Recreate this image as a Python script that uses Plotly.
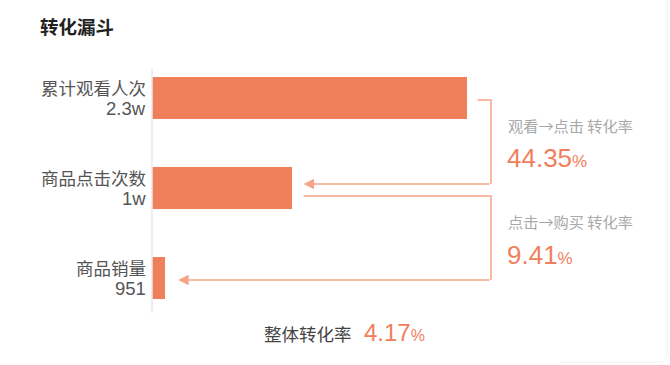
import plotly.graph_objects as go

# ---- data ----
categories = ["累计观看人次", "商品点击次数", "商品销量"]
values = [22806, 10114, 951]
value_labels = ["2.3w", "1w", "951"]
step_names = ["观看→点击 转化率", "点击→购买 转化率"]
step_rates = [44.35, 9.41]
overall_label = "整体转化率"
overall_rate = 4.17
title = "转化漏斗"

# ---- styling / layout constants ----
FIG_W, FIG_H = 670, 365
BAR_COLOR = "#F0805C"
LINE_COLOR = "#F6A486"
FONT = "Liberation Sans, Noto Sans CJK SC, sans-serif"
CJK_FONT = "Noto Sans CJK SC, sans-serif"
X0_PX, PLOT_W_PX = 152, 448
BAR1_END_PX = 466.7
R = values[0] * PLOT_W_PX / (BAR1_END_PX - X0_PX)
Y_TOP_PX, ROW_PX = 53, 90
BRACKET_X_PX = 491


def px(x):
    return x / FIG_W


def py(y):
    return 1 - y / FIG_H


def vx(v):
    return X0_PX + v / R * PLOT_W_PX


def cy(i):
    return Y_TOP_PX + (i + 0.5) * ROW_PX


n = len(categories)
fig = go.Figure()
fig.add_trace(go.Bar(
    y=list(range(n)), x=values, orientation="h",
    marker=dict(color=BAR_COLOR, line=dict(width=0)),
    width=0.473, hoverinfo="skip", showlegend=False,
))

shapes = []
annotations = []

# axis line
shapes.append(dict(type="line", xref="paper", yref="paper",
                   x0=px(X0_PX), x1=px(X0_PX), y0=py(68), y1=py(313),
                   line=dict(color="#E8E8EE", width=1.5)))

# card border (right edge with rounded corner)
shapes.append(dict(type="path", xref="paper", yref="paper",
                   path=f"M {px(667)},{py(0)} L {px(667)},{py(354)} Q {px(667)},{py(362)} {px(659)},{py(362)} L {px(560)},{py(362)}",
                   line=dict(color="#F0F0F0", width=1)))

# connectors
conn = [
    (vx(values[0]) + 11, cy(0) + 2, vx(values[1]) + 12, cy(1) - 4),
    (vx(values[1]) + 12, cy(1) + 8, vx(values[2]) + 13, cy(2) + 2),
]
for (sx, sy, tx, ty) in conn:
    shapes.append(dict(type="path", xref="paper", yref="paper",
                       path=f"M {px(sx)},{py(sy)} L {px(BRACKET_X_PX)},{py(sy)} L {px(BRACKET_X_PX)},{py(ty)}",
                       line=dict(color=LINE_COLOR, width=1.5)))
    annotations.append(dict(xref="paper", yref="paper", x=px(tx), y=py(ty),
                            ax=BRACKET_X_PX - tx, ay=0, axref="pixel", ayref="pixel",
                            text="", showarrow=True, arrowhead=2, arrowsize=1.4,
                            arrowwidth=1.5, arrowcolor=LINE_COLOR, standoff=0))

# left labels
for i, (c, lab) in enumerate(zip(categories, value_labels)):
    annotations.append(dict(xref="paper", yref="paper", x=px(148), y=py(cy(i) - 11),
                            xanchor="right", yanchor="middle", showarrow=False,
                            text=c, font=dict(family=CJK_FONT, size=17.5, color="#555555")))
    annotations.append(dict(xref="paper", yref="paper", x=px(148), y=py(cy(i) + 10),
                            xanchor="right", yanchor="middle", showarrow=False,
                            text=lab, font=dict(family=FONT, size=18.5, color="#555555")))

# right rate labels
rate_pos = [(125, 158), (221, 255)]
for (name, rate), (yl, yr) in zip(zip(step_names, step_rates), rate_pos):
    annotations.append(dict(xref="paper", yref="paper", x=px(506), y=py(yl),
                            xanchor="left", yanchor="middle", showarrow=False,
                            text=name, font=dict(family=CJK_FONT, size=15.2, color="#A8A8A8")))
    annotations.append(dict(xref="paper", yref="paper", x=px(505), y=py(yr),
                            xanchor="left", yanchor="middle", showarrow=False,
                            text=f"{rate:.2f}<span style='font-size:17px'>%</span>",
                            font=dict(family=FONT, size=26, color=BAR_COLOR)))

# overall
annotations.append(dict(xref="paper", yref="paper", x=px(262), y=py(333),
                        xanchor="left", yanchor="middle", showarrow=False,
                        text=overall_label, font=dict(family=CJK_FONT, size=17.5, color="#444444")))
annotations.append(dict(xref="paper", yref="paper", x=px(362), y=py(332),
                        xanchor="left", yanchor="middle", showarrow=False,
                        text=f"{overall_rate:.2f}<span style='font-size:16px'>%</span>",
                        font=dict(family=FONT, size=24, color=BAR_COLOR)))

# title
annotations.append(dict(xref="paper", yref="paper", x=px(38), y=py(26),
                        xanchor="left", yanchor="middle", showarrow=False,
                        text=f"<b>{title}</b>", font=dict(family=CJK_FONT, size=18.5, color="#222222")))

fig.update_layout(
    width=FIG_W, height=FIG_H,
    margin=dict(l=0, r=0, t=0, b=0, pad=0),
    paper_bgcolor="white", plot_bgcolor="white",
    xaxis=dict(domain=[px(X0_PX), px(X0_PX + PLOT_W_PX)], range=[0, R],
               visible=False, fixedrange=True),
    yaxis=dict(domain=[py(Y_TOP_PX + n * ROW_PX), py(Y_TOP_PX)], range=[n - 0.5, -0.5],
               visible=False, fixedrange=True),
    shapes=shapes, annotations=annotations,
    bargap=0, showlegend=False,
)

fig.write_html("out.html", config={"displayModeBar": False})
